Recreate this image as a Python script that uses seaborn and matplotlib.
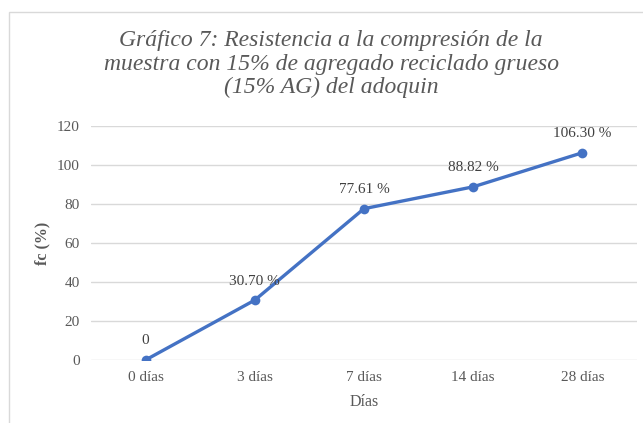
import matplotlib.pyplot as plt
import seaborn as sns
import pandas as pd
from matplotlib.patches import Rectangle

dias = ["0 días", "3 días", "7 días", "14 días", "28 días"]
fc = [0, 30.70, 77.61, 88.82, 106.30]
etiquetas = ["0", "30.70 %", "77.61 %", "88.82 %", "106.30 %"]

df = pd.DataFrame({"Días": dias, "fc": fc})

sns.set_theme(style="white")
plt.rcParams["font.family"] = ["Liberation Serif", "DejaVu Serif"]

fig = plt.figure(figsize=(6.43, 4.23), dpi=100)
ax = fig.add_axes([0.1415, 0.149, 0.849, 0.553])

sns.lineplot(data=df, x="Días", y="fc", ax=ax, color="#4472C4", linewidth=2.4,
             marker="o", markersize=7, markeredgewidth=0, sort=False)

for i, (v, t) in enumerate(zip(fc, etiquetas)):
    ax.annotate(t, (i, v), xytext=(0, 9), textcoords="offset points",
                ha="center", va="bottom", fontsize=11, color="#404040")

ax.set_xlim(-0.5, 4.5)
ax.set_ylim(0, 120)
ax.set_yticks(range(0, 121, 20))
ax.grid(axis="y", color="#d9d9d9", linewidth=1)
for s in ax.spines.values():
    s.set_visible(False)
ax.tick_params(axis="both", length=0, labelsize=11, labelcolor="#595959", pad=8)
ax.set_xlabel("Días", fontsize=11.5, color="#595959", labelpad=7)
ax.set_ylabel("fc (%)", fontsize=11.5, color="#595959", fontweight="bold", labelpad=5)

fig.text(0.515, 0.848, "Gráfico 7: Resistencia a la compresión de la\n"
         "muestra con 15% de agregado reciclado grueso\n(15% AG) del adoquin",
         ha="center", va="center", fontsize=17, style="italic", color="#595959",
         linespacing=1.15)

fig.patches.append(Rectangle((9 / 643, -0.1), 2, 1.1 - 12 / 423, transform=fig.transFigure,
                             fill=False, edgecolor="#d9d9d9", linewidth=1))

fig.savefig("out.png", dpi=100)
